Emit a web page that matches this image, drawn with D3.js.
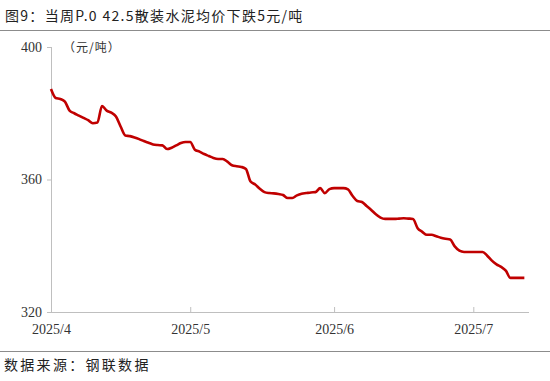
<!DOCTYPE html>
<html>
<head>
<meta charset="utf-8">
<script src="https://cdn.jsdelivr.net/npm/d3@7"></script>
<style>
  body { margin: 0; background: #fff; }
  svg { display: block; }
</style>
</head>
<body>
<div id="chart"></div>
<script>
// daily prices (元/吨)
const dates = [
  "2025-04-01","2025-04-02","2025-04-03","2025-04-04","2025-04-05","2025-04-06","2025-04-07","2025-04-08","2025-04-09","2025-04-10",
  "2025-04-11","2025-04-12","2025-04-13","2025-04-14","2025-04-15","2025-04-16","2025-04-17","2025-04-18","2025-04-19","2025-04-20",
  "2025-04-21","2025-04-22","2025-04-23","2025-04-24","2025-04-25","2025-04-26","2025-04-27","2025-04-28","2025-04-29","2025-04-30",
  "2025-05-01","2025-05-02","2025-05-03","2025-05-04","2025-05-05","2025-05-06","2025-05-07","2025-05-08","2025-05-09","2025-05-10",
  "2025-05-11","2025-05-12","2025-05-13","2025-05-14","2025-05-15","2025-05-16","2025-05-17","2025-05-18","2025-05-19","2025-05-20",
  "2025-05-21","2025-05-22","2025-05-23","2025-05-24","2025-05-25","2025-05-26","2025-05-27","2025-05-28","2025-05-29","2025-05-30",
  "2025-05-31","2025-06-01","2025-06-02","2025-06-03","2025-06-04","2025-06-05","2025-06-06","2025-06-07","2025-06-08","2025-06-09",
  "2025-06-10","2025-06-11","2025-06-12","2025-06-13","2025-06-14","2025-06-15","2025-06-16","2025-06-17","2025-06-18","2025-06-19",
  "2025-06-20","2025-06-21","2025-06-22","2025-06-23","2025-06-24","2025-06-25","2025-06-26","2025-06-27","2025-06-28","2025-06-29",
  "2025-06-30","2025-07-01","2025-07-02","2025-07-03","2025-07-04","2025-07-05","2025-07-06","2025-07-07","2025-07-08","2025-07-09",
  "2025-07-10","2025-07-11","2025-07-12"
];
const prices = [
  387.3,384.6,384.3,383.5,380.8,380.0,379.3,378.6,377.9,377.0,
  377.2,382.2,380.8,380.2,379.0,376.0,373.3,373.1,372.7,372.2,
  371.6,371.1,370.6,370.4,370.3,369.2,369.6,370.3,371.0,371.3,
  371.3,369.0,368.4,367.7,367.1,366.5,366.2,366.2,365.4,364.3,
  364.0,363.8,363.2,359.4,358.5,357.2,356.2,355.9,355.8,355.6,
  355.3,354.4,354.4,355.2,355.7,355.9,356.1,356.2,357.4,355.9,
  357.1,357.4,357.4,357.4,357.0,355.0,353.5,353.2,352.0,350.8,
  349.5,348.5,348.1,348.1,348.1,348.2,348.3,348.2,348.1,345.3,
  344.2,343.3,343.3,342.9,342.4,342.1,341.9,339.8,338.5,338.1,
  338.1,338.1,338.1,338.1,337.0,335.5,334.4,333.6,332.5,330.3,
  330.3,330.3,330.3
];
const yTicks = [320, 360, 400];
const xTicks = ["2025-04-01","2025-05-01","2025-06-01","2025-07-01"];
const xDomain = ["2025-04-01","2025-07-13"];

const W = 550, H = 381;
const margin = {top: 47, right: 21, bottom: 69, left: 51};
const parse = d3.timeParse("%Y-%m-%d");
const data = dates.map((d, i) => ({date: parse(d), value: prices[i]}));

const svg = d3.select("#chart").append("svg")
  .attr("width", W)
  .attr("height", H);

// title + separators
svg.append("text")
  .attr("x", 5).attr("y", 21)
  .style("font-family", "'Noto Sans CJK SC', sans-serif")
  .style("font-size", "14px")
  .style("letter-spacing", "1.3px")
  .style("fill", "#222")
  .text("图9：当周P.0 42.5散装水泥均价下跌5元/吨");
svg.append("line")
  .attr("x1", 0).attr("x2", W).attr("y1", 30.5).attr("y2", 30.5)
  .attr("stroke", "#8c8c8c").attr("stroke-width", 1);
svg.append("line")
  .attr("x1", 0).attr("x2", W).attr("y1", 351.5).attr("y2", 351.5)
  .attr("stroke", "#8c8c8c").attr("stroke-width", 1);
svg.append("text")
  .attr("x", 4).attr("y", 370)
  .style("font-family", "'Noto Sans CJK SC', sans-serif")
  .style("font-size", "14px")
  .style("letter-spacing", "2.3px")
  .style("fill", "#222")
  .text("数据来源：钢联数据");

const x = d3.scaleTime()
  .domain(xDomain.map(parse))
  .range([margin.left, W - margin.right]);
const y = d3.scaleLinear()
  .domain([320, 400])
  .range([H - margin.bottom, margin.top]);

// y axis
const yAxis = svg.append("g")
  .attr("transform", `translate(${margin.left},0)`)
  .call(d3.axisLeft(y).tickValues(yTicks).tickSize(4).tickPadding(5).tickFormat(d3.format("d")));
yAxis.select(".domain").attr("stroke", "#bfbfbf").attr("d", `M0.5,${margin.top}V${H - margin.bottom}`);
yAxis.selectAll(".tick line").attr("stroke", "#bfbfbf");
yAxis.selectAll(".tick text")
  .style("font-family", "'Liberation Serif', serif")
  .style("font-size", "14px")
  .style("fill", "#333");

// x axis
const xAxis = svg.append("g")
  .attr("transform", `translate(0,${H - margin.bottom})`)
  .call(d3.axisBottom(x).tickValues(xTicks.map(parse)).tickSize(-5).tickPadding(12)
    .tickFormat(d3.timeFormat("%Y/%-m")));
xAxis.select(".domain").attr("stroke", "#bfbfbf")
  .attr("d", `M${margin.left},0.5H${W - margin.right}`);
xAxis.selectAll(".tick line").attr("stroke", "#bfbfbf");
xAxis.selectAll(".tick").filter((d, i) => i === 0).select("line").remove();
xAxis.selectAll(".tick text")
  .style("font-family", "'Liberation Serif', serif")
  .style("font-size", "14px")
  .style("fill", "#333");

// unit label
svg.append("text")
  .attr("x", 63).attr("y", 52)
  .style("font-family", "'Noto Sans CJK SC', sans-serif")
  .style("font-size", "12px")
  .style("letter-spacing", "1px")
  .style("fill", "#333")
  .text("（元/吨）");

// price line
const line = d3.line()
  .x(d => x(d.date))
  .y(d => y(d.value))
  .curve(d3.curveMonotoneX);

svg.append("path")
  .datum(data)
  .attr("fill", "none")
  .attr("stroke", "#c00000")
  .attr("stroke-width", 2.6)
  .attr("stroke-linejoin", "round")
  .attr("d", line);
</script>
</body>
</html>
